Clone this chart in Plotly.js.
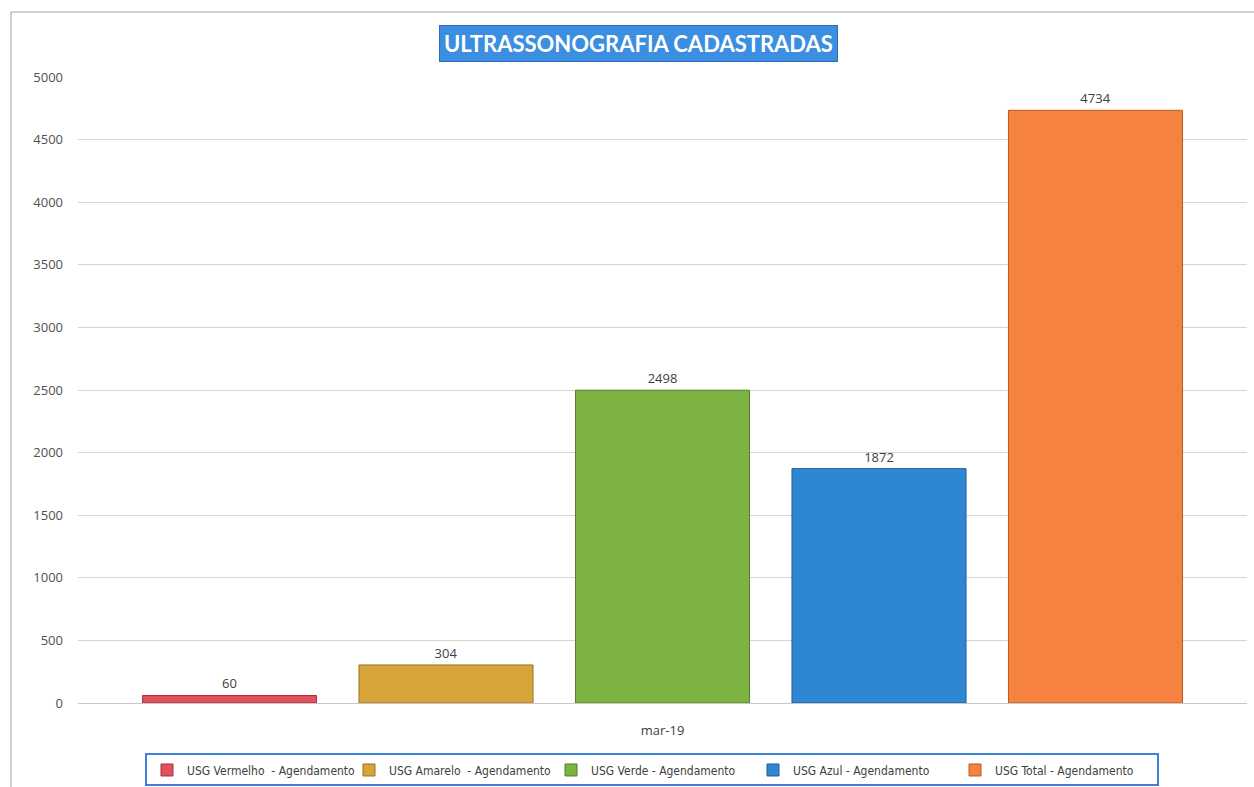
<!DOCTYPE html>
<html>
<head>
<meta charset="utf-8">
<script src="https://cdn.plot.ly/plotly-3.0.1.min.js"></script>
<style>html,body{margin:0;padding:0;background:#fff;}#chart{width:1254px;height:787px;}</style>
</head>
<body>
<div id="chart"></div>
<script>
const category = ["mar-19"];
const seriesNames = [
  "USG Vermelho  - Agendamento",
  "USG Amarelo  - Agendamento",
  "USG Verde - Agendamento",
  "USG Azul - Agendamento",
  "USG Total - Agendamento"
];
const seriesValues = [60, 304, 2498, 1872, 4734];
const seriesColors = ["#e0525e", "#d7a43a", "#7cb342", "#2f87d3", "#f6823f"];
const seriesLines = ["#a8323c", "#9c7420", "#557d2c", "#1d5e99", "#b85a25"];
const yTicks = [0, 500, 1000, 1500, 2000, 2500, 3000, 3500, 4000, 4500, 5000];

const traces = seriesNames.map((name, i) => ({
  type: "bar",
  name: name,
  x: category,
  y: [seriesValues[i]],
  text: [String(seriesValues[i])],
  textposition: "outside",
  cliponaxis: false,
  textfont: {family: "Open Sans, sans-serif", size: 13, color: "#404040"},
  marker: {color: seriesColors[i], line: {color: seriesLines[i], width: 1}},
  hoverinfo: "name+y"
}));

const layout = {
  width: 1254, height: 787,
  margin: {l: 78, r: 7, t: 77, b: 84, autoexpand: false},
  paper_bgcolor: "#ffffff", plot_bgcolor: "#ffffff",
  barmode: "group",
  bargap: 0.074,
  bargroupgap: 0.196,
  showlegend: true,
  font: {family: "Open Sans, sans-serif", color: "#404040"},
  xaxis: {
    type: "category",
    showgrid: false, zeroline: false, showline: false,
    ticks: "", tickfont: {size: 13, color: "#404040"},
    ticklabelstandoff: 18
  },
  yaxis: {
    range: [0, 5000],
    tickvals: yTicks,
    ticktext: yTicks.map(String),
    showgrid: true, gridcolor: "#d4d4d4", gridwidth: 1,
    zeroline: true, zerolinecolor: "#c8c8c8",
    showline: false, ticks: "",
    tickfont: {size: 13, color: "#505050"},
    ticklabelstandoff: 14
  },
  legend: {
    orientation: "h",
    x: (652 - 78) / 1169, xanchor: "center",
    y: -0.107, yanchor: "middle",
    bordercolor: "#3b82d6", borderwidth: 2,
    bgcolor: "#ffffff",
    font: {family: "Liberation Sans Narrow, DejaVu Sans Condensed, sans-serif", size: 12, color: "#404040"},
    itemwidth: 30,
    entrywidth: 157
  },
  annotations: [{
    xref: "paper", yref: "paper",
    x: (638 - 78) / 1169, y: 1 + (77 - 43) / 626,
    xanchor: "center", yanchor: "middle",
    text: "<b>ULTRASSONOGRAFIA CADASTRADAS</b>",
    showarrow: false,
    font: {family: "Lato, Open Sans, sans-serif", size: 22, color: "#ffffff"},
    bgcolor: "#3b8ee0",
    bordercolor: "#2a6fb8", borderwidth: 1,
    borderpad: 4
  }],
  shapes: [{
    type: "rect", xref: "paper", yref: "paper",
    x0: (11 - 78) / 1169, x1: 1.01,
    y0: -0.2, y1: 1 + (77 - 12) / 626,
    line: {color: "#a0a0a0", width: 1}, layer: "below"
  }]
};

Plotly.newPlot("chart", traces, layout, {displayModeBar: false, staticPlot: true});
</script>
</body>
</html>
